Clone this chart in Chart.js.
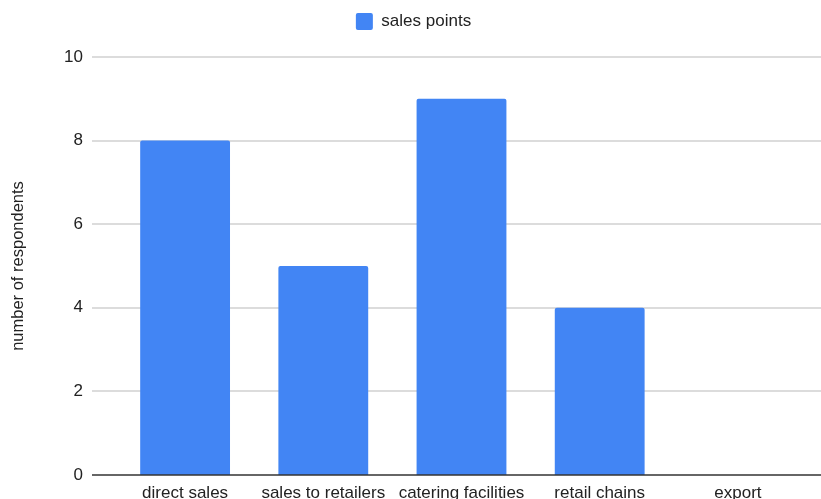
<!DOCTYPE html>
<html>
<head>
<meta charset="utf-8">
<script src="https://cdn.jsdelivr.net/npm/chart.js@4"></script>
<style>
  html, body { margin: 0; padding: 0; background: #fff; overflow: hidden; }
  #wrap { width: 821px; height: 499px; }
  canvas { display: block; }
</style>
</head>
<body>
<div id="wrap"><canvas id="bar-chartcanvas" width="821" height="499"></canvas></div>
<script>
var categories = ["direct sales", "sales to retailers", "catering facilities", "retail chains", "export"];
var salesPoints = [8, 5, 9, 4, 0];
var yTicks = [0, 2, 4, 6, 8, 10];

var fontFamily = "Liberation Sans, Arial, sans-serif";

// horizontal grid lines run wider than the bar area
var wideGrid = {
  id: "wideGrid",
  beforeDatasetsDraw: function(chart) {
    var ctx = chart.ctx, y = chart.scales.y;
    ctx.save();
    ctx.lineWidth = 1.5;
    ctx.strokeStyle = "#d0d0d0";
    y.ticks.forEach(function(t) {
      if (t.value === 0) return;
      var py = Math.round(y.getPixelForValue(t.value));
      ctx.beginPath();
      ctx.moveTo(92, py);
      ctx.lineTo(chart.width, py);
      ctx.stroke();
    });
    ctx.restore();
  },
  afterDatasetsDraw: function(chart) {
    var ctx = chart.ctx, y = chart.scales.y;
    var py = Math.round(y.getPixelForValue(0));
    ctx.save();
    ctx.lineWidth = 1.5;
    ctx.strokeStyle = "#333333";
    ctx.beginPath();
    ctx.moveTo(92, py);
    ctx.lineTo(chart.width, py);
    ctx.stroke();
    ctx.restore();
  }
};

// more room under the legend, legend nudged a bit right
var legendSpace = {
  id: "legendSpace",
  beforeInit: function(chart) {
    if (!chart.legend) return;
    var origFit = chart.legend.fit;
    chart.legend.fit = function() {
      origFit.bind(chart.legend)();
      this.height = 56;
      if (this.lineWidths && this.lineWidths.length) this.lineWidths[0] -= 20;
    };
  }
};

var ctx = document.getElementById("bar-chartcanvas");

var data = {
  labels: categories,
  datasets: [{
    label: "sales points",
    data: salesPoints,
    backgroundColor: "#4285f4",
    borderColor: "#4285f4",
    borderWidth: 0,
    borderRadius: { topLeft: 2, topRight: 2 },
    borderSkipped: "bottom",
    categoryPercentage: 0.65,
    barPercentage: 1
  }]
};

var options = {
  responsive: false,
  animation: false,
  layout: { padding: { top: 1, right: 14, bottom: 0, left: 0 } },
  plugins: {
    legend: {
      display: true,
      position: "top",
      labels: {
        boxWidth: 17,
        boxHeight: 17,
        useBorderRadius: true,
        borderRadius: 2,
        color: "#222",
        font: { family: fontFamily, size: 17 },
        padding: 12
      }
    },
    tooltip: { enabled: false }
  },
  scales: {
    x: {
      grid: { display: false, drawTicks: false },
      border: { display: false },
      ticks: {
        color: "#222",
        padding: 8,
        maxRotation: 0,
        autoSkip: false,
        font: { family: fontFamily, size: 17 }
      },
      afterFit: function(scale) { scale.height = 24; }
    },
    y: {
      min: 0,
      max: 10,
      afterBuildTicks: function(scale) {
        scale.ticks = yTicks.map(function(v) { return { value: v }; });
      },
      grid: { display: false, drawTicks: false },
      border: { display: false },
      ticks: {
        color: "#222",
        padding: 33,
        font: { family: fontFamily, size: 17 }
      },
      title: {
        display: true,
        text: "number of respondents",
        color: "#222",
        padding: { top: 9, bottom: 0 },
        font: { family: fontFamily, size: 16.5 }
      },
      afterFit: function(scale) {
        scale.width = 116;
        // keep the wide tick padding from eating into the plot height
        scale.paddingTop = 10;
        scale.paddingBottom = 10;
      }
    }
  }
};

var chart = new Chart(ctx, {
  type: "bar",
  data: data,
  options: options,
  plugins: [wideGrid, legendSpace]
});
</script>
</body>
</html>
